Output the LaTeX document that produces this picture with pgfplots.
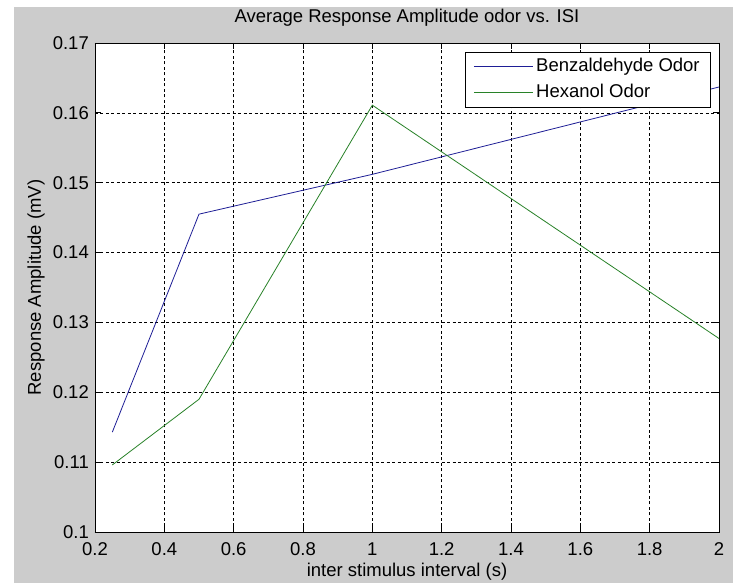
\documentclass[border=0pt]{standalone}
\usepackage{fontspec}
\setmainfont{Liberation Sans}
\usepackage{pgfplots}
\pgfplotsset{compat=1.18}
\definecolor{figgray}{gray}{0.8}
\definecolor{mblue}{RGB}{30,30,150}
\definecolor{mgreen}{RGB}{40,130,40}
\newcommand{\ff}{\fontsize{18.5bp}{22bp}\selectfont}
\begin{document}
\begin{tikzpicture}
\fill[white] (-95bp,-51bp) rectangle (642bp,532bp);
\fill[figgray] (-81bp,-51bp) rectangle (638bp,525bp);
\useasboundingbox (-95bp,-51bp) rectangle (642bp,532bp);
\begin{axis}[
  at={(0bp,0bp)}, anchor=south west,
  width=624bp, height=489bp, scale only axis,
  xmin=0.2, xmax=2, ymin=0.1, ymax=0.17,
  xtick={0.2,0.4,0.6,0.8,1,1.2,1.4,1.6,1.8,2},
  xticklabels={0.2,0.4,0.6,0.8,1,1.2,1.4,1.6,1.8,2},
  ytick={0.1,0.11,0.12,0.13,0.14,0.15,0.16,0.17},
  yticklabels={0.1,0.11,0.12,0.13,0.14,0.15,0.16,0.17},
  /pgf/number format/assume math mode=true,
  scaled y ticks=false,
  axis background/.style={fill=white},
  axis line style={black, line width=0.8bp},
  tick style={black, line width=0.8bp},
  tick align=inside,
  major tick length=6bp,
  grid=major,
  major grid style={black, line width=0.6bp, dash pattern=on 3bp off 2.5bp},
  tick label style={font=\ff, text=black},
  xticklabel style={anchor=base, yshift=-23bp},
  yticklabel style={anchor=east, inner sep=0pt, xshift=-6bp},
  title={Average Response Amplitude odor vs. ISI},
  title style={font=\ff, at={(axis description cs:0.5,1)}, anchor=base, yshift=15bp},
  xlabel={inter stimulus interval (s)},
  xlabel style={font=\ff, at={(axis description cs:0.5,0)}, anchor=base, yshift=-44bp},
  ylabel={Response Amplitude (mV)},
  ylabel style={font=\ff, at={(axis description cs:0,0.5)}, anchor=center, rotate=0, yshift=59bp},
  legend cell align=left,
  legend style={font=\ff, at={(rel axis cs:1,1)}, anchor=north east,
    xshift=-8bp, yshift=-9bp, draw=black, fill=white, line width=0.6bp,
    inner xsep=8bp, inner ysep=1.5bp,
    nodes={text height=13bp, text depth=4bp, inner ysep=4.5bp, inner xsep=3bp}},
  legend image code/.code={\draw[#1, line width=0.8bp] (0bp,0bp) -- (59bp,0bp);},
]
\addplot[mblue, line width=0.8bp] coordinates {
  (0.25,0.1143) (0.5,0.1455) (1,0.1512) (2,0.1637)
};
\addlegendentry{Benzaldehyde Odor}
\addplot[mgreen, line width=0.8bp] coordinates {
  (0.25,0.1096) (0.5,0.1190) (1,0.1611) (2,0.1277)
};
\addlegendentry{Hexanol Odor}
\end{axis}
\end{tikzpicture}
\end{document}
